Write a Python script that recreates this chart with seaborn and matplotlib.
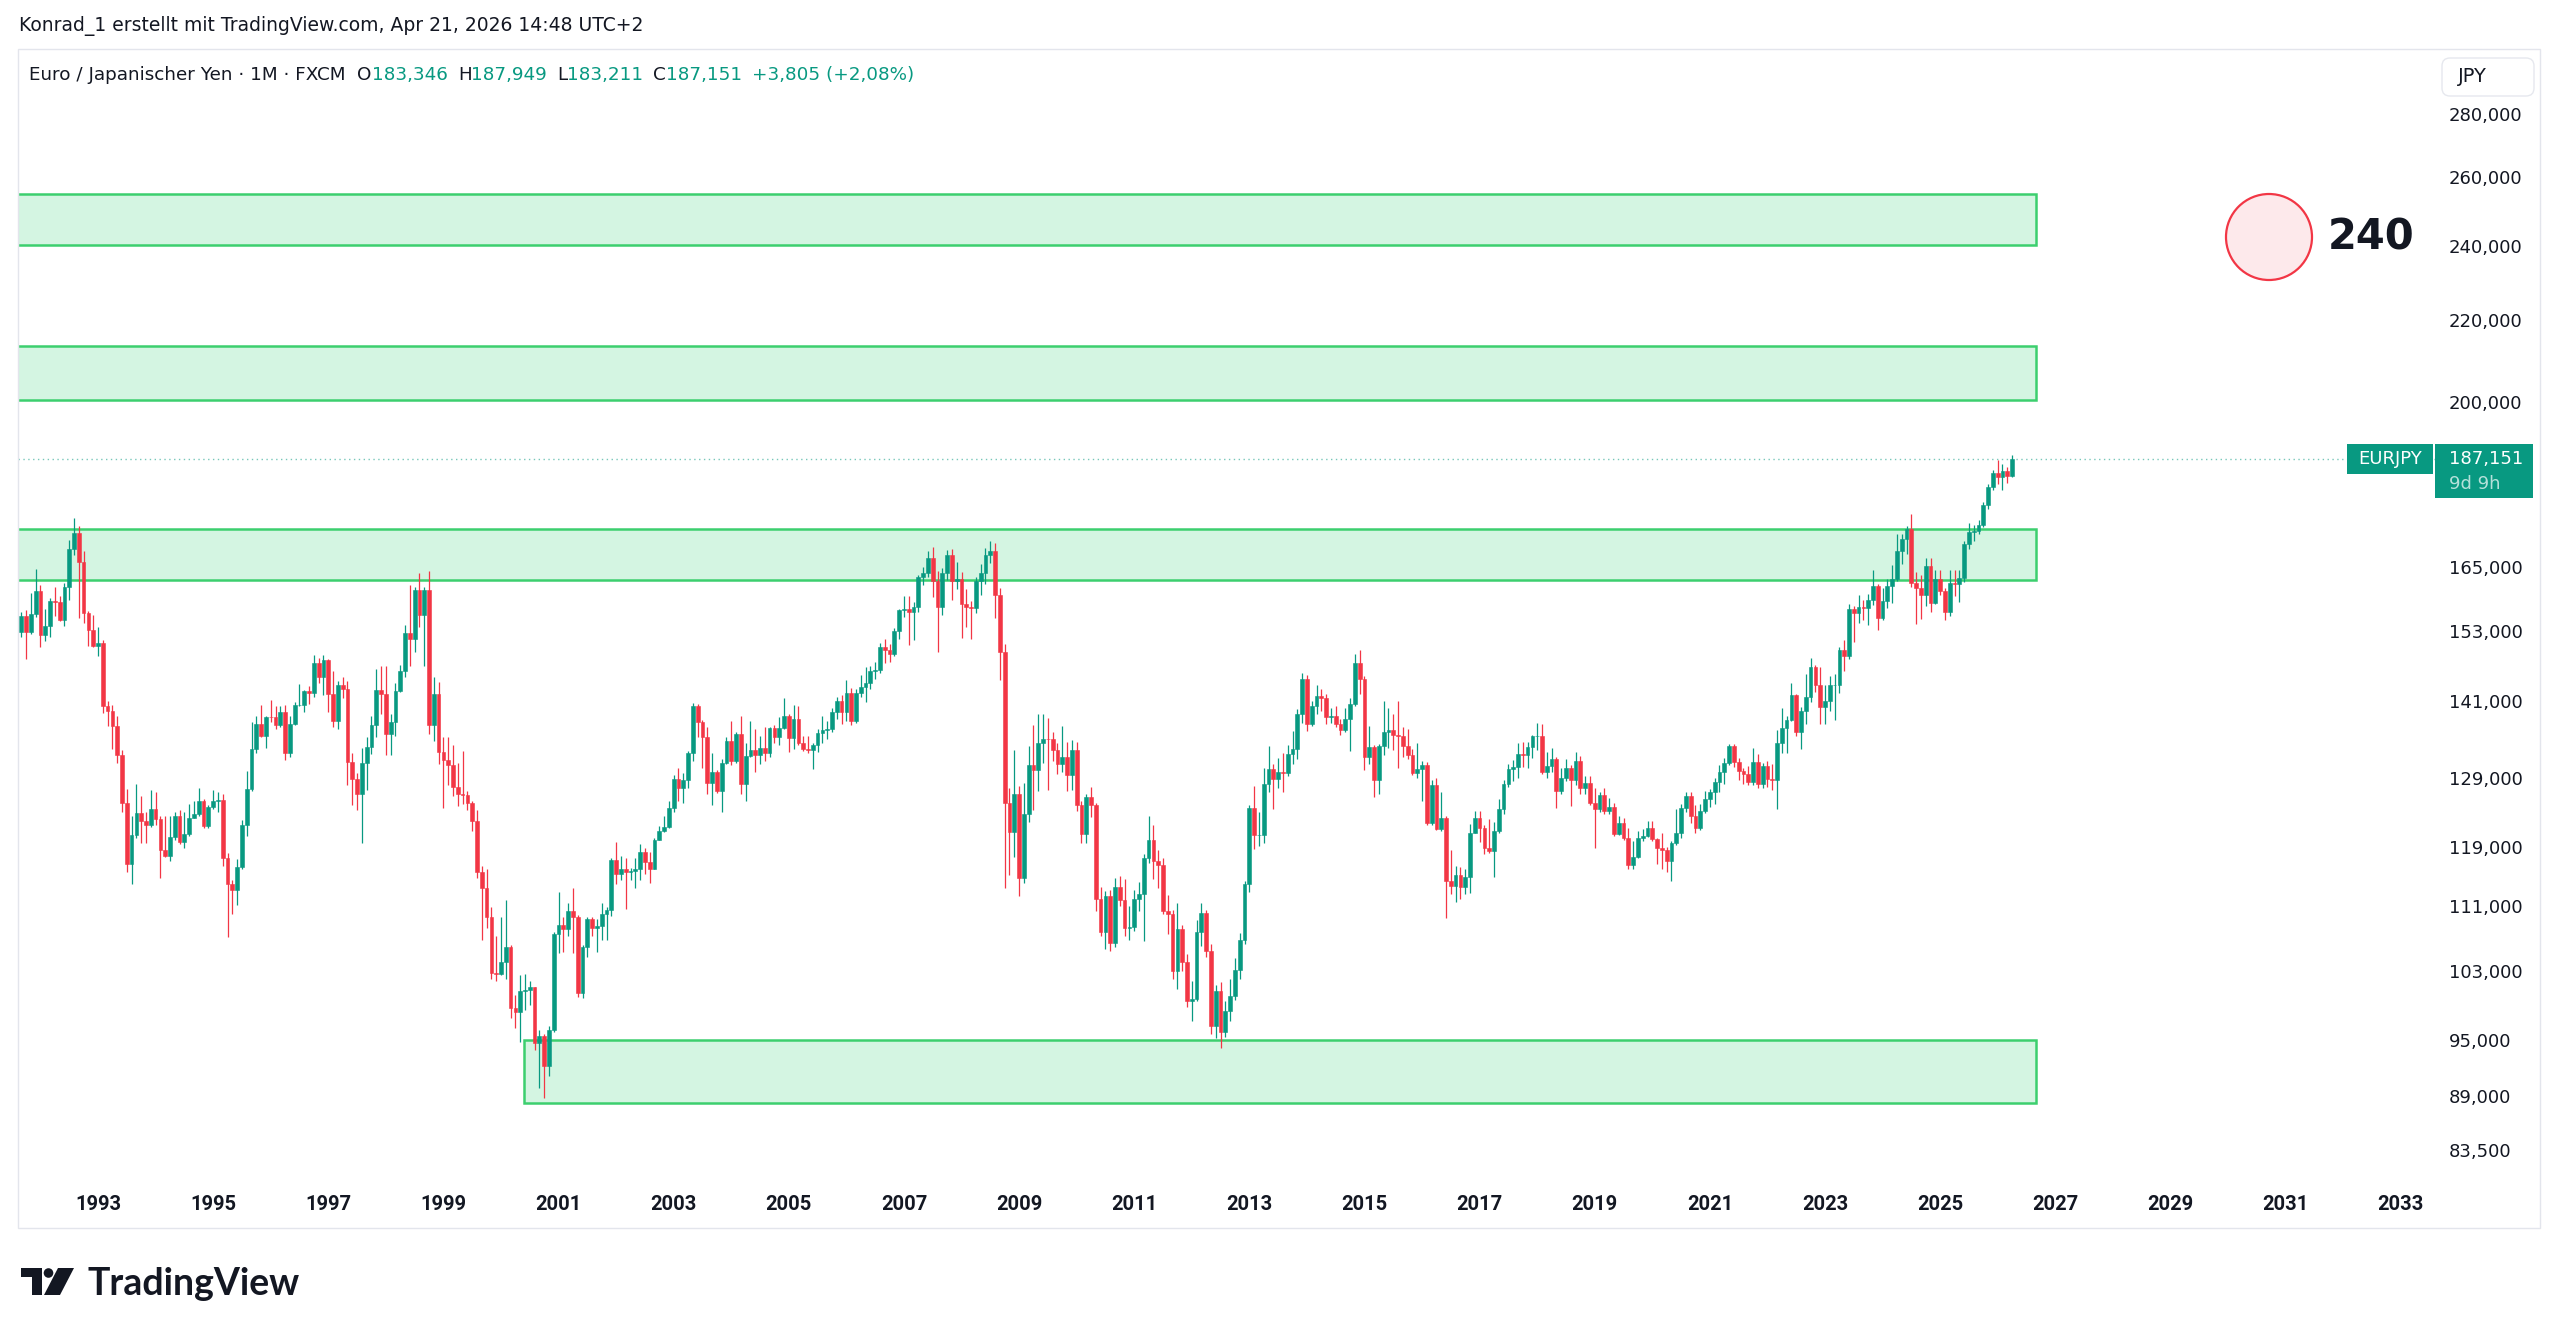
import numpy as np
import pandas as pd
import seaborn as sns
import matplotlib.pyplot as plt
from matplotlib.patches import Rectangle, Circle, FancyBboxPatch, Polygon
from matplotlib.transforms import IdentityTransform

W, H = 2560, 1336

# Monthly EUR/JPY candles, Sep 1991 .. Apr 2026
opens = [
    152.9, 155.7, 152.9, 156.1,
    160.4, 152.4, 153.9, 158.5, 158.3, 155.1, 161.1, 168.4, 171.7, 165.9, 156.3, 153.2,
    150.4, 151.0, 140.3, 139.5, 137.0, 132.5, 125.2, 116.6, 120.6, 123.8, 122.6, 122.0,
    124.4, 122.9, 118.5, 117.8, 120.4, 123.3, 119.7, 120.8, 123.1, 123.6, 125.6, 121.9,
    124.6, 125.6, 125.7, 117.4, 114.0, 113.2, 116.2, 122.0, 127.3, 133.4, 137.4, 135.4,
    138.5, 138.4, 137.1, 139.2, 132.7, 137.4, 140.4, 140.5, 142.7, 142.4, 147.4, 145.0,
    148.0, 142.3, 137.9, 143.8, 143.1, 131.4, 128.8, 126.6, 131.3, 133.7, 137.1, 142.9,
    142.3, 135.8, 137.6, 142.8, 146.1, 152.8, 151.6, 160.5, 155.9, 160.5, 137.2, 142.3,
    132.9, 131.7, 130.9, 127.6, 126.5, 126.4, 125.3, 122.7, 115.6, 113.4, 109.7, 102.7,
    102.6, 104.0, 105.9, 98.6, 98.1, 100.6, 100.7, 101.0, 94.6, 95.4, 92.1, 96.1,
    107.5, 108.6, 108.1, 110.4, 109.6, 100.3, 105.9, 109.4, 108.2, 108.5, 110.0, 110.5,
    117.2, 115.3, 115.9, 115.5, 115.7, 115.9, 118.3, 116.9, 116.0, 120.0, 121.2, 121.8,
    124.5, 128.8, 127.4, 128.6, 132.8, 140.3, 137.6, 135.2, 128.2, 129.8, 127.0, 131.2,
    134.7, 131.5, 135.8, 128.0, 132.3, 133.2, 132.5, 133.5, 132.8, 136.7, 135.2, 136.7,
    138.7, 135.1, 138.2, 134.4, 133.4, 133.3, 134.0, 135.9, 136.4, 136.6, 139.3, 141.1,
    139.3, 142.4, 137.9, 142.4, 143.4, 144.1, 146.1, 146.2, 150.2, 149.8, 149.1, 153.1,
    156.8, 157.0, 156.5, 157.4, 163.0, 163.8, 166.6, 162.2, 157.5, 163.8, 167.2, 162.2,
    162.7, 158.0, 157.5, 157.2, 162.2, 163.8, 167.2, 168.1, 159.6, 149.3, 125.3, 121.1,
    126.5, 114.8, 123.6, 130.9, 130.2, 134.4, 135.0, 134.9, 133.2, 131.0, 132.2, 129.4,
    133.2, 124.9, 120.8, 126.1, 124.9, 112.0, 107.8, 112.4, 106.4, 113.5, 111.8, 108.3,
    108.4, 112.0, 112.6, 117.4, 120.0, 117.0, 116.5, 110.4, 110.0, 103.0, 108.1, 104.0,
    99.4, 99.6, 107.7, 110.2, 105.4, 96.5, 100.6, 95.9, 98.3, 100.0, 103.1, 106.8,
    113.9, 124.5, 120.6, 120.7, 128.0, 130.3, 128.8, 129.8, 129.7, 132.6, 133.4, 139.0,
    144.8, 137.4, 140.3, 141.9, 141.6, 138.5, 138.6, 137.4, 136.4, 138.2, 140.6, 147.5,
    144.7, 132.1, 133.7, 128.6, 133.9, 136.1, 136.4, 135.6, 135.5, 133.9, 132.4, 129.7,
    130.3, 130.9, 122.3, 127.9, 121.5, 123.0, 114.4, 113.7, 115.1, 113.5, 114.9, 121.0,
    123.0, 121.6, 118.9, 118.4, 121.2, 124.4, 128.0, 130.3, 130.6, 132.6, 132.5, 133.7,
    135.4, 135.5, 129.8, 130.7, 131.8, 127.0, 129.0, 130.4, 128.6, 131.6, 127.4, 128.2,
    125.3, 124.4, 126.4, 124.1, 124.7, 120.8, 122.4, 120.2, 116.5, 117.6, 120.3, 120.5,
    121.6, 120.1, 118.9, 118.6, 117.1, 119.5, 121.0, 124.5, 126.3, 123.4, 121.6, 124.1,
    125.8, 126.8, 128.4, 129.8, 131.3, 133.8, 131.4, 130.0, 129.6, 128.4, 131.4, 128.0,
    130.7, 128.8, 128.7, 134.4, 136.7, 138.0, 142.1, 136.1, 139.5, 141.7, 146.7, 143.7,
    140.1, 141.1, 143.7, 143.8, 149.8, 148.6, 157.1, 156.3, 157.4, 157.3, 158.8, 161.3,
    155.4, 158.6, 161.4, 162.6, 168.1, 170.4, 172.4, 161.9, 161.0, 159.6, 165.1, 158.2,
    162.6, 160.4, 156.5, 161.9, 161.7, 162.8, 169.5, 171.9, 172.0, 173.2, 177.3, 181.1,
    184.0, 183.3, 184.4, 183.346,
]
highs = [
    156.6, 156.8, 160.0, 164.5,
    161.5, 157.0, 159.0, 161.1, 159.5, 161.9, 170.3, 174.7, 173.1, 168.0, 156.7, 155.9,
    153.8, 151.4, 141.1, 140.5, 138.7, 133.3, 127.3, 123.3, 128.0, 126.2, 124.0, 127.2,
    126.8, 123.3, 123.3, 123.3, 123.9, 124.2, 124.0, 125.1, 125.6, 127.4, 125.9, 125.0,
    127.1, 126.8, 126.5, 118.2, 114.5, 117.3, 122.8, 130.0, 137.6, 138.7, 140.4, 138.7,
    141.2, 140.2, 140.2, 140.5, 138.7, 140.9, 143.9, 142.9, 143.5, 148.8, 148.4, 148.9,
    148.2, 146.1, 144.4, 145.0, 144.4, 132.7, 129.7, 133.5, 135.3, 138.7, 146.4, 147.0,
    146.9, 139.0, 144.1, 147.2, 154.2, 161.5, 161.1, 163.8, 161.2, 164.2, 145.0, 144.3,
    135.2, 135.2, 134.0, 131.2, 133.1, 127.0, 125.6, 124.2, 116.4, 115.9, 110.9, 107.3,
    109.6, 111.8, 106.1, 100.1, 102.5, 102.6, 101.8, 101.1, 96.1, 95.7, 96.5, 107.8,
    112.9, 109.7, 111.4, 113.4, 109.9, 106.1, 109.6, 109.6, 109.4, 111.5, 110.9, 117.4,
    119.7, 117.7, 117.4, 116.1, 117.4, 119.4, 118.8, 118.3, 120.3, 121.9, 123.3, 125.6,
    129.4, 130.4, 129.7, 133.1, 140.8, 140.6, 138.0, 136.8, 132.8, 130.2, 131.8, 135.2,
    137.8, 136.1, 138.7, 134.3, 137.8, 136.5, 135.5, 136.8, 136.9, 137.1, 138.5, 141.5,
    139.0, 140.4, 140.2, 135.5, 135.4, 134.4, 136.5, 138.6, 137.8, 140.0, 141.8, 142.0,
    144.6, 143.3, 143.0, 145.4, 146.8, 147.0, 147.7, 151.0, 151.6, 150.8, 153.6, 157.1,
    159.5, 159.4, 158.3, 163.5, 165.0, 168.0, 168.9, 164.2, 164.7, 168.3, 168.5, 166.0,
    164.0, 160.8, 158.5, 163.0, 165.5, 168.6, 170.0, 169.6, 160.9, 150.8, 127.5, 133.2,
    127.8, 128.2, 133.9, 137.2, 139.0, 139.0, 138.3, 136.0, 134.4, 137.0, 134.5, 134.8,
    134.5, 125.6, 126.5, 127.6, 125.3, 113.5, 113.0, 113.2, 114.8, 115.0, 114.6, 111.0,
    113.1, 114.2, 118.0, 123.3, 122.0, 118.5, 117.5, 112.5, 110.6, 111.5, 108.6, 105.0,
    101.7, 109.2, 111.4, 110.6, 106.3, 101.3, 101.6, 99.4, 102.0, 104.5, 107.6, 114.3,
    125.0, 127.7, 124.0, 130.4, 133.8, 131.0, 132.0, 132.8, 134.0, 136.2, 139.7, 145.7,
    145.4, 141.0, 143.7, 143.0, 142.2, 139.9, 140.2, 138.2, 140.0, 141.5, 149.1, 149.8,
    145.2, 137.0, 134.0, 134.2, 141.0, 140.0, 138.9, 141.1, 136.8, 136.6, 133.4, 134.3,
    131.5, 131.4, 128.6, 129.0, 126.8, 123.4, 118.5, 116.4, 116.2, 116.0, 122.2, 124.1,
    124.1, 122.0, 122.9, 122.5, 125.8, 128.7, 131.0, 131.7, 134.4, 134.5, 134.5, 135.6,
    137.5, 137.3, 133.0, 133.5, 132.2, 130.4, 131.8, 130.9, 132.9, 132.3, 129.2, 129.3,
    127.5, 126.8, 127.5, 126.0, 125.2, 123.4, 123.0, 121.6, 119.8, 121.2, 121.5, 122.6,
    122.6, 120.3, 120.9, 119.0, 119.8, 124.3, 125.1, 126.8, 126.8, 124.9, 125.1, 127.0,
    127.3, 128.9, 130.9, 132.0, 134.1, 134.1, 132.0, 130.5, 130.8, 133.5, 132.6, 131.2,
    131.6, 131.0, 136.4, 140.0, 138.7, 144.0, 142.3, 140.1, 145.6, 148.4, 147.1, 146.7,
    143.7, 145.3, 145.6, 150.3, 151.4, 158.0, 157.7, 159.7, 158.7, 159.8, 164.3, 161.8,
    161.0, 162.6, 165.4, 171.5, 171.5, 173.0, 175.4, 163.9, 163.4, 166.6, 166.6, 164.3,
    164.3, 160.9, 164.3, 164.3, 164.3, 170.0, 173.6, 173.3, 174.3, 178.0, 181.8, 184.7,
    186.9, 186.1, 185.4, 187.949,
]
lows = [
    152.0, 148.2, 152.5, 155.6,
    150.2, 151.3, 152.0, 155.7, 154.9, 154.0, 158.7, 167.2, 155.5, 154.5, 150.5, 150.2,
    148.6, 139.1, 137.0, 133.4, 131.3, 124.0, 115.6, 113.9, 120.2, 119.6, 119.6, 121.8,
    122.0, 114.8, 117.6, 117.0, 120.0, 119.4, 118.9, 120.5, 123.0, 123.3, 121.6, 121.6,
    124.4, 123.9, 116.4, 107.1, 110.0, 111.2, 116.0, 120.5, 127.0, 132.8, 135.2, 133.6,
    137.7, 136.5, 136.8, 131.7, 132.2, 137.1, 140.3, 139.3, 140.6, 141.8, 144.0, 142.0,
    139.3, 136.8, 136.5, 141.6, 127.9, 125.0, 124.2, 119.5, 127.2, 132.6, 135.3, 139.0,
    132.5, 132.5, 135.5, 142.6, 145.0, 146.9, 149.3, 153.8, 146.9, 135.8, 134.6, 131.1,
    124.5, 127.9, 126.3, 124.8, 125.1, 124.2, 121.2, 114.8, 106.7, 108.2, 102.0, 101.8,
    102.5, 102.0, 97.5, 96.3, 94.8, 98.4, 99.0, 93.9, 89.8, 88.8, 91.1, 95.9,
    105.1, 105.3, 107.3, 105.1, 99.9, 99.7, 104.6, 107.3, 105.3, 106.8, 106.7, 109.8,
    114.0, 114.5, 110.7, 114.5, 113.4, 114.5, 115.3, 114.1, 115.9, 119.9, 121.1, 121.7,
    123.9, 125.6, 125.3, 127.4, 131.5, 135.3, 130.4, 126.5, 124.9, 126.7, 123.9, 131.0,
    130.9, 131.3, 126.5, 125.6, 132.2, 129.9, 131.1, 131.5, 132.2, 134.4, 134.0, 136.6,
    132.9, 133.4, 134.0, 133.1, 132.8, 130.3, 133.0, 134.3, 135.0, 136.0, 138.2, 137.3,
    137.8, 137.2, 137.5, 141.7, 140.9, 143.0, 144.8, 145.7, 147.4, 147.7, 148.6, 151.6,
    155.6, 150.6, 151.4, 156.6, 161.6, 163.0, 159.3, 149.3, 156.0, 162.4, 158.8, 160.8,
    151.8, 153.8, 151.7, 156.3, 159.6, 161.8, 165.8, 155.5, 144.5, 113.4, 115.2, 117.6,
    112.4, 114.1, 122.5, 124.2, 127.0, 131.2, 127.1, 131.5, 129.6, 129.8, 127.0, 127.2,
    124.1, 119.5, 119.6, 123.2, 110.4, 107.2, 105.6, 105.4, 105.9, 111.0, 107.3, 106.7,
    107.9, 110.4, 106.6, 116.8, 114.6, 113.4, 110.0, 107.5, 102.0, 100.8, 102.9, 98.7,
    97.1, 99.4, 106.0, 104.7, 95.6, 95.2, 94.1, 95.3, 97.1, 99.5, 102.0, 106.2,
    112.9, 118.7, 119.1, 119.6, 126.8, 124.4, 127.5, 126.8, 129.3, 131.0, 131.8, 137.5,
    136.2, 137.0, 139.0, 139.5, 137.4, 137.5, 136.8, 135.6, 136.0, 133.1, 140.3, 142.2,
    130.2, 131.0, 126.1, 126.6, 132.5, 133.5, 133.3, 130.4, 132.2, 131.8, 129.4, 129.0,
    125.5, 122.0, 122.0, 121.3, 121.2, 109.5, 112.6, 111.6, 112.0, 112.6, 112.7, 120.9,
    119.7, 118.0, 118.2, 114.9, 120.9, 123.6, 127.6, 128.5, 128.9, 130.6, 130.5, 132.0,
    133.3, 129.5, 128.9, 129.9, 124.5, 126.6, 128.5, 124.8, 127.9, 126.6, 126.5, 124.9,
    118.8, 124.0, 123.6, 123.6, 120.5, 120.6, 119.9, 115.9, 115.9, 117.4, 119.8, 120.4,
    119.8, 116.6, 116.0, 115.5, 114.4, 119.3, 120.3, 124.0, 122.3, 121.0, 121.3, 123.8,
    124.7, 125.1, 126.8, 128.1, 130.9, 130.6, 128.6, 128.0, 127.9, 127.9, 127.5, 127.5,
    127.6, 127.2, 124.3, 132.7, 132.7, 137.8, 135.5, 133.4, 137.4, 140.9, 142.5, 137.4,
    137.4, 139.4, 138.0, 142.4, 146.1, 148.1, 151.2, 154.5, 155.0, 154.2, 157.8, 153.2,
    155.0, 157.2, 158.1, 162.2, 165.5, 167.5, 161.1, 154.3, 155.2, 157.6, 156.5, 158.0,
    159.7, 155.0, 155.8, 159.4, 158.3, 162.0, 168.5, 170.0, 171.5, 172.8, 176.5, 180.5,
    181.8, 180.5, 181.9, 183.211,
]
closes = [
    155.7, 152.9, 156.1, 160.4,
    152.4, 153.9, 158.5, 158.3, 155.1, 161.1, 168.4, 171.7, 165.9, 156.3, 153.2, 150.4,
    151.0, 140.3, 139.5, 137.0, 132.5, 125.2, 116.6, 120.6, 123.8, 122.6, 122.0, 124.4,
    122.9, 118.5, 117.8, 120.4, 123.3, 119.7, 120.8, 123.1, 123.6, 125.6, 121.9, 124.6,
    125.6, 125.7, 117.4, 114.0, 113.2, 116.2, 122.0, 127.3, 133.4, 137.4, 135.4, 138.5,
    138.4, 137.1, 139.2, 132.7, 137.4, 140.4, 140.5, 142.7, 142.4, 147.4, 145.0, 148.0,
    142.3, 137.9, 143.8, 143.1, 131.4, 128.8, 126.6, 131.3, 133.7, 137.1, 142.9, 142.3,
    135.8, 137.6, 142.8, 146.1, 152.8, 151.6, 160.5, 155.9, 160.5, 137.2, 142.3, 132.9,
    131.7, 130.9, 127.6, 126.5, 126.4, 125.3, 122.7, 115.6, 113.4, 109.7, 102.7, 102.6,
    104.0, 105.9, 98.6, 98.1, 100.6, 100.7, 101.0, 94.6, 95.4, 92.1, 96.1, 107.5,
    108.6, 108.1, 110.4, 109.6, 100.3, 105.9, 109.4, 108.2, 108.5, 110.0, 110.5, 117.2,
    115.3, 115.9, 115.5, 115.7, 115.9, 118.3, 116.9, 116.0, 120.0, 121.2, 121.8, 124.5,
    128.8, 127.4, 128.6, 132.8, 140.3, 137.6, 135.2, 128.2, 129.8, 127.0, 131.2, 134.7,
    131.5, 135.8, 128.0, 132.3, 133.2, 132.5, 133.5, 132.8, 136.7, 135.2, 136.7, 138.7,
    135.1, 138.2, 134.4, 133.4, 133.3, 134.0, 135.9, 136.4, 136.6, 139.3, 141.1, 139.3,
    142.4, 137.9, 142.4, 143.4, 144.1, 146.1, 146.2, 150.2, 149.8, 149.1, 153.1, 156.8,
    157.0, 156.5, 157.4, 163.0, 163.8, 166.6, 162.2, 157.5, 163.8, 167.2, 162.2, 162.7,
    158.0, 157.5, 157.2, 162.2, 163.8, 167.2, 168.1, 159.6, 149.3, 125.3, 121.1, 126.5,
    114.8, 123.6, 130.9, 130.2, 134.4, 135.0, 134.9, 133.2, 131.0, 132.2, 129.4, 133.2,
    124.9, 120.8, 126.1, 124.9, 112.0, 107.8, 112.4, 106.4, 113.5, 111.8, 108.3, 108.4,
    112.0, 112.6, 117.4, 120.0, 117.0, 116.5, 110.4, 110.0, 103.0, 108.1, 104.0, 99.4,
    99.6, 107.7, 110.2, 105.4, 96.5, 100.6, 95.9, 98.3, 100.0, 103.1, 106.8, 113.9,
    124.5, 120.6, 120.7, 128.0, 130.3, 128.8, 129.8, 129.7, 132.6, 133.4, 139.0, 144.8,
    137.4, 140.3, 141.9, 141.6, 138.5, 138.6, 137.4, 136.4, 138.2, 140.6, 147.5, 144.7,
    132.1, 133.7, 128.6, 133.9, 136.1, 136.4, 135.6, 135.5, 133.9, 132.4, 129.7, 130.3,
    130.9, 122.3, 127.9, 121.5, 123.0, 114.4, 113.7, 115.1, 113.5, 114.9, 121.0, 123.0,
    121.6, 118.9, 118.4, 121.2, 124.4, 128.0, 130.3, 130.6, 132.6, 132.5, 133.7, 135.4,
    135.5, 129.8, 130.7, 131.8, 127.0, 129.0, 130.4, 128.6, 131.6, 127.4, 128.2, 125.3,
    124.4, 126.4, 124.1, 124.7, 120.8, 122.4, 120.2, 116.5, 117.6, 120.3, 120.5, 121.6,
    120.1, 118.9, 118.6, 117.1, 119.5, 121.0, 124.5, 126.3, 123.4, 121.6, 124.1, 125.8,
    126.8, 128.4, 129.8, 131.3, 133.8, 131.4, 130.0, 129.6, 128.4, 131.4, 128.0, 130.7,
    128.8, 128.7, 134.4, 136.7, 138.0, 142.1, 136.1, 139.5, 141.7, 146.7, 143.7, 140.1,
    141.1, 143.7, 143.8, 149.8, 148.6, 157.1, 156.3, 157.4, 157.3, 158.8, 161.3, 155.4,
    158.6, 161.4, 162.6, 168.1, 170.4, 172.4, 161.9, 161.0, 159.6, 165.1, 158.2, 162.6,
    160.4, 156.5, 161.9, 161.7, 162.8, 169.5, 171.9, 172.0, 173.2, 177.3, 181.1, 184.0,
    183.3, 184.4, 183.346, 187.151,
]

# support / resistance boxes (price range, from/to in decimal years)
zone_low = [240.1, 200.4, 162.4, 88.3]
zone_high = [254.8, 213.4, 172.5, 95.0]
zone_from = [1985.0, 1985.0, 1985.0, 2000.40]
zone_to = [2026.67, 2026.67, 2026.67, 2026.67]

price_ticks = [83.5, 89, 95, 103, 111, 119, 129, 141, 153, 165, 200, 220, 240, 260, 280]
year_ticks = list(range(1993, 2034, 2))
target = 240

UP, DOWN = "#089981", "#F23645"
TXT = "#131722"

months = pd.period_range("1991-09", periods=len(closes), freq="M")
df = pd.DataFrame({
    "x": (months.year - 1993) * 12 + (months.month - 1),
    "open": opens, "high": highs, "low": lows, "close": closes,
})
df["color"] = np.where(df["close"] >= df["open"], UP, DOWN)

sns.set_theme(style="white")
plt.rcParams["font.family"] = ["DejaVu Sans"]

fig = plt.figure(figsize=(W / 100, H / 100), dpi=100)
fig.patch.set_facecolor("white")
ax = fig.add_axes([18 / W, 1 - 1185 / H, (2440 - 18) / W, (1185 - 49) / H])
ax.set_facecolor("white")
ax.set_yscale("log")

# boxes
for lo, hi, x0, x1 in zip(zone_low, zone_high, zone_from, zone_to):
    ax.add_patch(Rectangle(((x0 - 1993) * 12, lo), (x1 - x0) * 12, hi - lo,
                           facecolor="#d4f5e2", edgecolor="#3ccf6e", lw=1.8, zorder=1))

# candles
ax.vlines(df["x"], df["low"], df["high"], colors=df["color"], lw=0.9, zorder=3)
ax.bar(df["x"], (df["close"] - df["open"]).abs(), bottom=df[["open", "close"]].min(axis=1),
       width=0.78, color=df["color"], edgecolor=df["color"], linewidth=0.4, zorder=4)

# last price line
last = df.iloc[-1]
ax.axhline(last["close"], color=UP, lw=1.0, ls=(0, (1, 2.5)), alpha=0.55, zorder=2)

ax.set_xlim(-16.68, 488.2)
ax.set_ylim(80.2, 301.9)
ax.yaxis.tick_right()
ax.set_yticks(price_ticks)
ax.set_yticklabels([f"{v:.3f}".replace(".", ",") for v in price_ticks])
ax.minorticks_off()
ax.set_xticks([(y - 1993) * 12 for y in year_ticks])
ax.set_xticklabels([str(y) for y in year_ticks])
ax.tick_params(axis="y", length=0, pad=6.5, labelsize=13, labelcolor=TXT)
ax.tick_params(axis="x", length=0, pad=7, labelsize=14.5, labelcolor=TXT)
for lbl in ax.get_xticklabels():
    lbl.set_fontfamily(["Roboto", "DejaVu Sans"])
    lbl.set_fontweight("bold")
ax.grid(False)
sns.despine(ax=ax, left=True, bottom=True, right=True, top=True)

ID = IdentityTransform()


def box(x0, y0, x1, y1, **kw):
    p = Rectangle((x0, H - y1), x1 - x0, y1 - y0, transform=ID, **kw)
    fig.add_artist(p)
    return p


def ftext(x, y, s, **kw):
    return fig.text(x / W, 1 - y / H, s, **kw)


# pane frame
box(18, 49, 2540, 1228, fill=False, edgecolor="#e3e5ec", lw=1.0, zorder=5)

# price label on the axis, tied to last close
y_last = H - ax.transData.transform((0, last["close"]))[1]
box(2347, y_last - 15, 2433, y_last + 15, facecolor=UP, edgecolor="none", zorder=10)
box(2435, y_last - 15, 2533, y_last + 39, facecolor=UP, edgecolor="none", zorder=10)
ftext(2390, y_last, "EURJPY", color="white", fontsize=13, ha="center", va="center", zorder=11)
ftext(2449, y_last, f"{last['close']:.3f}".replace(".", ","), color="white", fontsize=13,
      ha="left", va="center", zorder=11)
ftext(2449, y_last + 25, "9d 9h", color=(1, 1, 1, 0.7), fontsize=13, ha="left", va="center",
      zorder=11)

# JPY button
jpy = FancyBboxPatch((2442, H - 96), 92, 38, boxstyle="round,pad=0,rounding_size=8",
                     transform=ID, facecolor="white", edgecolor="#e6e8ee", lw=1.0, zorder=10)
fig.add_artist(jpy)
ftext(2458, 77, "JPY", color=TXT, fontsize=14, ha="left", va="center", zorder=11)

# target marker
fig.add_artist(Circle((2269, H - 237), 43, transform=ID, facecolor="#fde9eb",
                      edgecolor=DOWN, lw=1.6, zorder=10))
ftext(2371, 237, str(target), color=TXT, fontsize=30, fontweight="bold",
      ha="center", va="center", zorder=11)

# header lines
ftext(19, 26, "Konrad_1 erstellt mit TradingView.com, Apr 21, 2026 14:48 UTC+2",
      color=TXT, fontsize=13.5, va="center")

prev_close = df["close"].iloc[-2]
chg = last["close"] - prev_close
fmt = lambda v: f"{v:.3f}".replace(".", ",")
parts = [
    ("Euro / Japanischer Yen · 1M · FXCM", TXT, 12),
    ("O", TXT, 0), (fmt(last["open"]), UP, 10),
    ("H", TXT, 0), (fmt(last["high"]), UP, 10),
    ("L", TXT, 0), (fmt(last["low"]), UP, 10),
    ("C", TXT, 0), (fmt(last["close"]), UP, 10),
    (f"+{fmt(chg)} (+{chg / prev_close * 100:.2f}%)".replace(".", ","), UP, 0),
]
renderer = fig.canvas.get_renderer()
xpos = 29
for s, col, gap in parts:
    t = ftext(xpos, 75, s, color=col, fontsize=13.2, va="center", ha="left")
    bb = t.get_window_extent(renderer)
    xpos = bb.x1 + gap

# TradingView logo
lc = "#131722"
box(21, 1268, 42, 1277, facecolor=lc, edgecolor="none")
box(32, 1268, 42, 1295, facecolor=lc, edgecolor="none")
fig.add_artist(Circle((48.5, H - 1273), 4.8, transform=ID, facecolor=lc, edgecolor="none"))
fig.add_artist(Polygon([(58, H - 1268), (74, H - 1268), (60, H - 1295), (44, H - 1295)],
                       closed=True, transform=ID, facecolor=lc, edgecolor="none"))
ftext(87, 1295, "TradingView", color=lc, fontsize=27, fontweight="bold",
      family=["Lato", "DejaVu Sans"], va="baseline", ha="left")

fig.savefig("out.png", dpi=100, facecolor="white")
